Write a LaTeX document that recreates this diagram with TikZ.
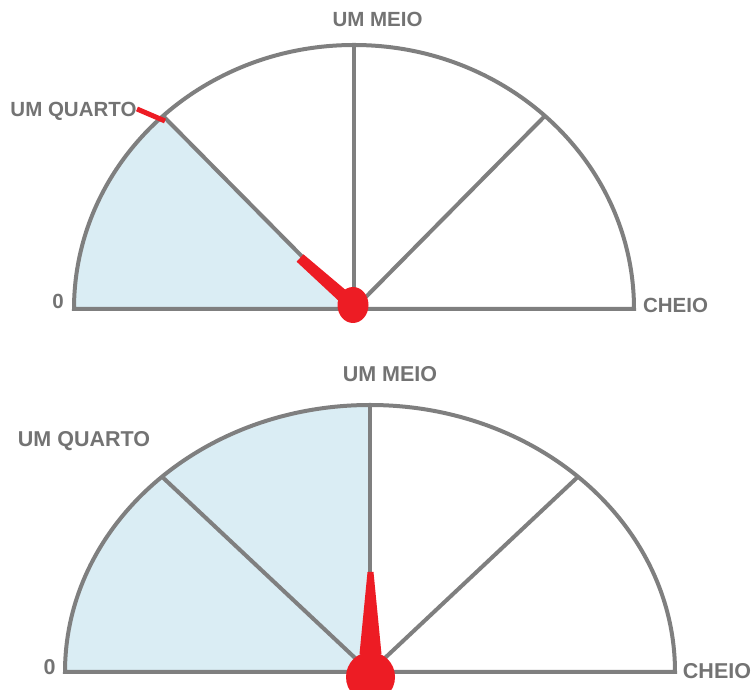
\documentclass[tikz,border=0pt]{standalone}
\usepackage{fontspec}
\newfontfamily\lblfont{Liberation Sans}
\definecolor{gaugegray}{RGB}{127,127,127}
\definecolor{txtgray}{RGB}{115,115,115}
\definecolor{skyfill}{RGB}{218,237,244}
\definecolor{needlered}{RGB}{237,28,36}
\begin{document}
\begin{tikzpicture}[x=1pt,y=1pt,
  gline/.style={draw=gaugegray, line width=4pt, line join=miter},
  lbl/.style={text=txtgray, inner sep=0pt, anchor=base, font=\lblfont\bfseries\fontsize{20.5}{22}\selectfont},
  lblb/.style={lbl, font=\lblfont\bfseries\fontsize{21.5}{23}\selectfont},
  redfill/.style={fill=needlered, draw=none}]
\useasboundingbox (0,0) rectangle (755,690);
% ---------- top gauge ----------
\coordinate (tc) at (354,381);
\coordinate (tl) at (74,381);
\fill[skyfill] (tc) -- (tl) arc[start angle=180, end angle=133, x radius=280pt, y radius=264pt] -- cycle;
\draw[gline] (tl) arc[start angle=180, end angle=0, x radius=280pt, y radius=264pt] -- cycle;
\draw[gline] (tc) -- ++(90:280pt and 264pt) coordinate (ttop);
\draw[gline] (tc) -- ++(133:280pt and 264pt) coordinate (tq1);
\draw[gline] (tc) -- ++(47:280pt and 264pt) coordinate (tq3);
% needle
\coordinate (tn0) at (353,385);
\coordinate (tn1) at (300,432);
\fill[redfill] (296.6,428.3) -- (303.4,435.7) -- (357.5,390) -- (348.5,380) -- cycle;
\fill[redfill] (tn0) ellipse[x radius=15.5pt, y radius=18pt];
\coordinate (tm0) at (137,581);
\coordinate (tm1) at (165,569);
\draw[needlered, line width=5pt] (tm0) -- (tm1);
% labels
\node[lbl] (tmeio) at (377.5,663) {UM MEIO};
\node[lbl] (tquarto) at (73.5,573) {UM QUARTO};
\node[lbl] (tzero) at (58,381) {0};
\node[lbl] (tcheio) at (675.5,377) {CHEIO};
% ---------- bottom gauge ----------
\coordinate (bc) at (370,18);
\coordinate (bl) at (65,18);
\fill[skyfill] (bc) -- (bl) arc[start angle=180, end angle=90, x radius=305pt, y radius=267pt] -- cycle;
\draw[gline] (bl) arc[start angle=180, end angle=0, x radius=305pt, y radius=267pt] -- cycle;
\draw[gline] (bc) -- ++(90:305pt and 267pt) coordinate (btop);
\draw[gline] (bc) -- ++(133:305pt and 267pt) coordinate (bq1);
\draw[gline] (bc) -- ++(47:305pt and 267pt) coordinate (bq3);
% needle
\coordinate (bn) at (370.5,13);
\fill[redfill] (367.5,118) -- (373.5,118) -- (381.5,36) -- (359.5,36) -- cycle;
\fill[redfill] (bn) ellipse[x radius=24.5pt, y radius=25pt];
% labels
\node[lblb] (bmeio) at (390,308) {UM MEIO};
\node[lblb] (bquarto) at (84,243) {UM QUARTO};
\node[lblb] (bzero) at (49.5,15) {0};
\node[lblb] (bcheio) at (717,11) {CHEIO};
\end{tikzpicture}
\end{document}
